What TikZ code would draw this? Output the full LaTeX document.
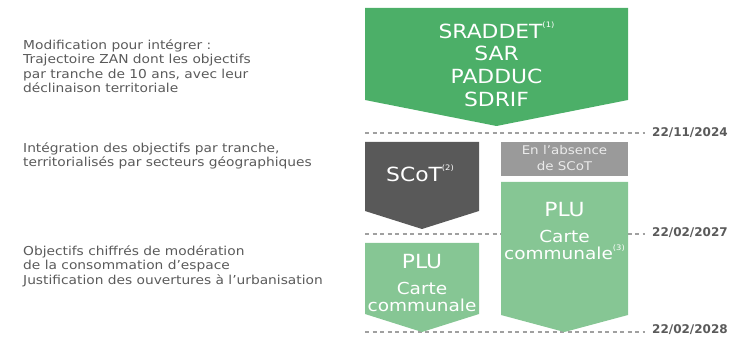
\documentclass[tikz,border=0pt]{standalone}
\usepackage{fontspec}
\setmainfont{DejaVu Sans}[FakeStretch=1.12]
\newfontfamily\datefont{DejaVu Sans}
\definecolor{biggreen}{HTML}{4CAF68}
\definecolor{lightgreen}{HTML}{86C694}
\definecolor{darkbox}{HTML}{595959}
\definecolor{greybox}{HTML}{9A9A9A}
\definecolor{txtgrey}{HTML}{5A5A5A}
\definecolor{dashgrey}{HTML}{A0A0A0}
\tikzset{
  lefttext/.style={anchor=west, align=left, text=txtgrey, inner sep=0pt, font=\fontsize{12.3}{14.4}\selectfont},
  datetext/.style={anchor=west, text=txtgrey, inner sep=0pt, font=\datefont\fontsize{12}{15}\selectfont\bfseries},
  boxtext/.style={text=white, align=center, inner sep=0pt},
  bigfont/.style={font=\fontsize{19.5}{22.7}\selectfont},
  midfont/.style={font=\fontsize{16.5}{17}\selectfont},
  smallfont/.style={font=\fontsize{12}{16}\selectfont},
  dashline/.style={draw=dashgrey, line width=1.1pt, dash pattern=on 4pt off 3.5pt},
}
\newcommand{\supr}[1]{\raisebox{0.55em}{\fontsize{7.5}{8}\selectfont(#1)}}
\begin{document}
\begin{tikzpicture}[x=1pt,y=-1pt]
\useasboundingbox (0,0) rectangle (740,339);
% dashed time lines
\coordinate (l1a) at (365,133); \coordinate (l1b) at (645,133);
\coordinate (l2a) at (365,234); \coordinate (l2b) at (645,234);
\coordinate (l3a) at (365,332); \coordinate (l3b) at (645,332);
\draw[dashline] (l1a) -- (l1b);
\draw[dashline] (l2a) -- (l2b);
\draw[dashline] (l3a) -- (l3b);
% dates
\node[datetext] (d1) at (652,133) {22/11/2024};
\node[datetext] (d2) at (652,233) {22/02/2027};
\node[datetext] (d3) at (652,330) {22/02/2028};
% shapes
\fill[biggreen] (365,8) -- (628,8) -- (628,100) -- (496.5,126) -- (365,100) -- cycle;
\fill[darkbox] (365,142) -- (479,142) -- (479,211) -- (422,229) -- (365,211) -- cycle;
\fill[greybox] (501,142) rectangle (628,176);
\fill[lightgreen] (501,182) -- (628,182) -- (628,315) -- (564.5,332) -- (501,315) -- cycle;
\fill[lightgreen] (365,243) -- (479,243) -- (479,314) -- (422,332) -- (365,314) -- cycle;
% box texts
\node[boxtext, bigfont] (sraddet) at (496.5,64) {SRADDET\supr{1}\\SAR\\PADDUC\\SDRIF};
\node[boxtext, bigfont] (scot) at (420,173) {SCoT\supr{2}};
\node[boxtext, smallfont, text=white!92!black] (absence) at (564.5,158.5) {En l'absence\\de SCoT};
\node[boxtext, bigfont] (plur) at (564.5,210) {PLU};
\node[boxtext, midfont] (carter) at (564.5,245) {Carte\\communale\supr{3}};
\node[boxtext, bigfont] (plul) at (422,262) {PLU};
\node[boxtext, midfont] (cartel) at (422,296.5) {Carte\\communale};
% left texts
\node[lefttext] (t1) at (23,66) {Modification pour intégrer :\\Trajectoire ZAN dont les objectifs\\par tranche de 10 ans, avec leur\\déclinaison territoriale};
\node[lefttext] (t2) at (23,156) {Intégration des objectifs par tranche,\\territorialisés par secteurs géographiques};
\node[lefttext] (t3) at (23,266) {Objectifs chiffrés de modération\\de la consommation d'espace\\Justification des ouvertures à l'urbanisation};
\end{tikzpicture}
\end{document}
